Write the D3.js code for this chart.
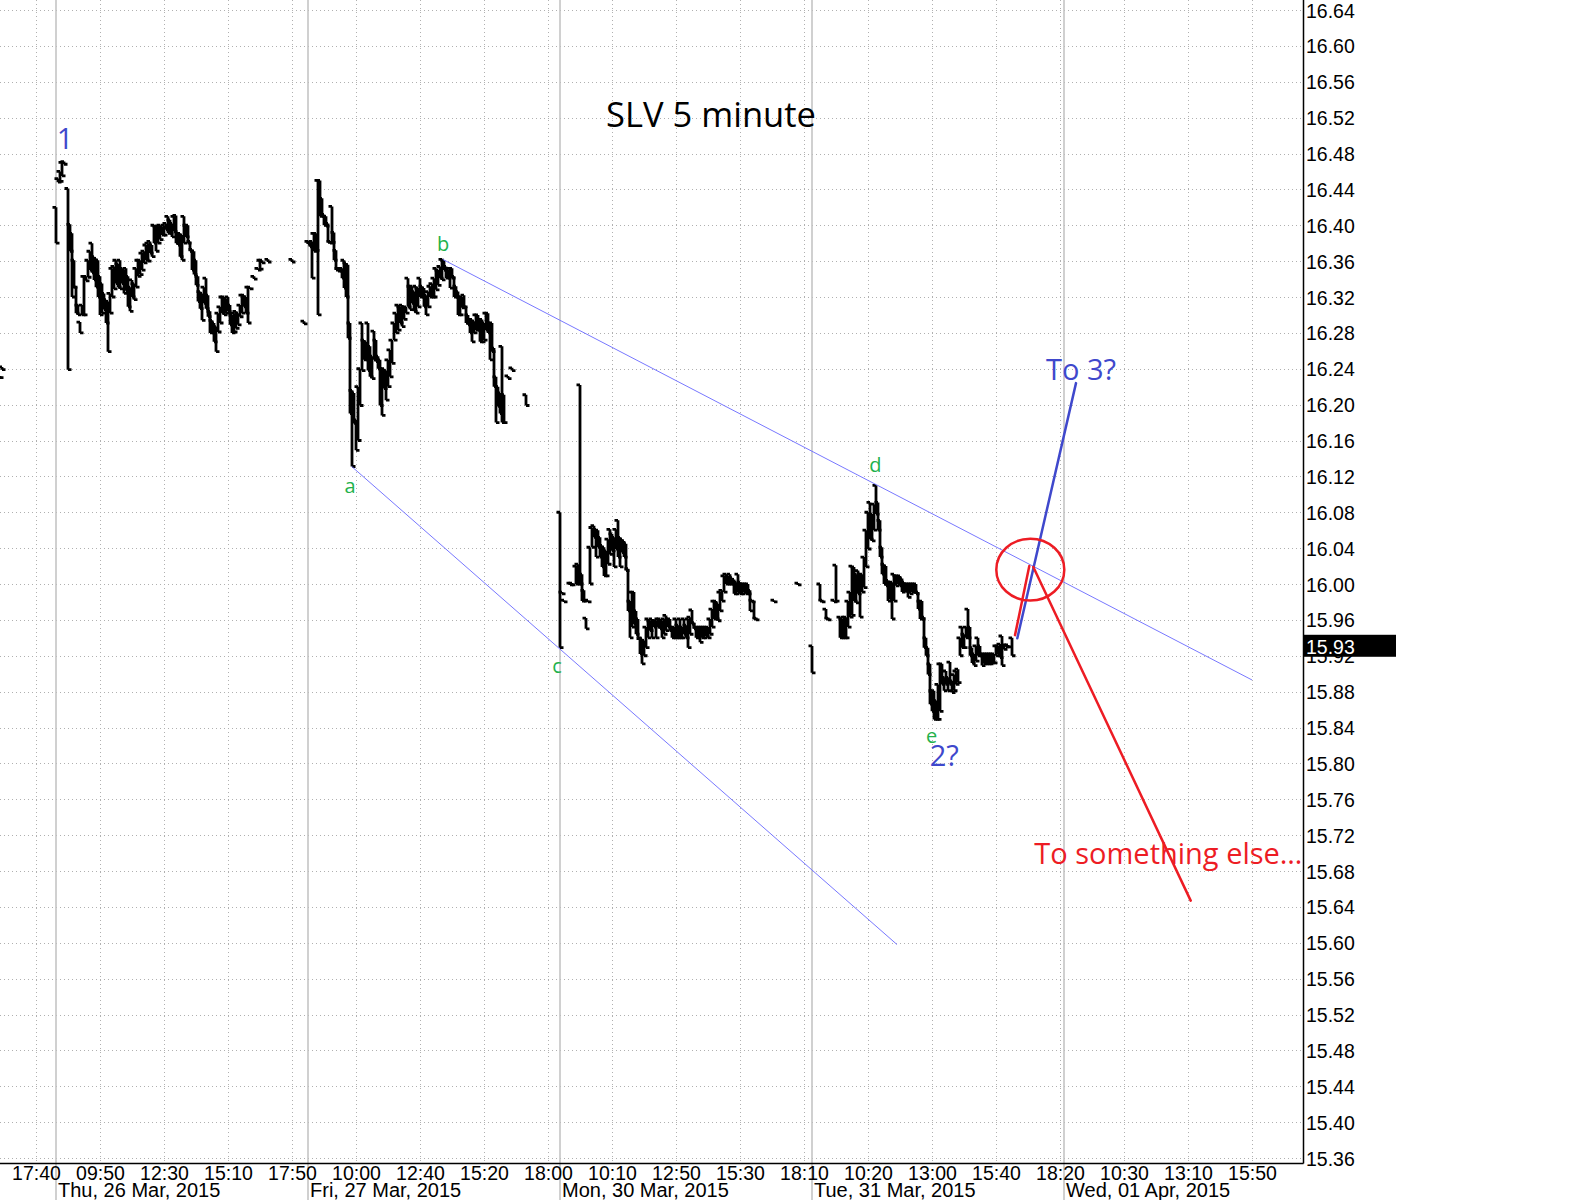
<!DOCTYPE html>
<html>
<head>
<meta charset="utf-8">
<script src="https://cdn.jsdelivr.net/npm/d3@7"></script>
<style>
  body { margin: 0; background: #fff; }
</style>
</head>
<body>
<div id="chart"></div>
<script>
// ---- data -------------------------------------------------------------
// 5 minute bars, session 08:00-18:30 = 126 bars per day.
// each bar: [bar number in the session, high, low]
const wedBars = [[98, 16.232, 16.230], [99, 16.242, 16.239]];

const thuBars = [
  [0,16.42,16.38],[1,16.452,16.448],[2,16.46,16.449],[3,16.47,16.455],[4,16.471,16.468],
  [6,16.441,16.239],[7,16.401,16.371],[8,16.391,16.32],[9,16.361,16.331],[10,16.331,16.302],
  [11,16.311,16.30],[12,16.292,16.28],[13,16.311,16.30],[14,16.343,16.30],[15,16.343,16.338],
  [16,16.361,16.342],[17,16.371,16.35],[18,16.38,16.347],[19,16.365,16.339],[20,16.363,16.331],
  [21,16.361,16.32],[22,16.343,16.30],[23,16.335,16.302],[24,16.324,16.306],[25,16.317,16.291],
  [26,16.315,16.259],[27,16.324,16.302],[28,16.352,16.32],[29,16.354,16.329],[30,16.361,16.335],
  [31,16.357,16.331],[32,16.361,16.329],[33,16.352,16.335],[34,16.35,16.324],[35,16.352,16.327],
  [36,16.343,16.309],[37,16.331,16.304],[38,16.339,16.32],[39,16.335,16.317],[40,16.352,16.331],
  [41,16.361,16.343],[42,16.361,16.345],[43,16.369,16.35],[44,16.371,16.358],[45,16.378,16.361],
  [46,16.38,16.36],[47,16.382,16.369],[48,16.378,16.365],[49,16.40,16.38],[50,16.399,16.371],
  [51,16.399,16.38],[52,16.40,16.384],[53,16.398,16.389],[54,16.40,16.389],[55,16.402,16.395],
  [56,16.41,16.391],[57,16.406,16.391],[58,16.402,16.387],[59,16.41,16.393],[60,16.411,16.38],
  [61,16.391,16.378],[62,16.391,16.365],[63,16.389,16.361],[64,16.41,16.38],[65,16.40,16.387],
  [66,16.40,16.38],[67,16.382,16.371],[68,16.373,16.35],[69,16.371,16.345],[70,16.361,16.333],
  [71,16.343,16.315],[72,16.326,16.307],[73,16.324,16.294],[74,16.331,16.313],[75,16.341,16.307],
  [76,16.322,16.298],[77,16.304,16.28],[78,16.294,16.28],[79,16.291,16.27],[80,16.287,16.259],
  [81,16.302,16.281],[82,16.309,16.291],[83,16.32,16.302],[84,16.32,16.30],[85,16.318,16.302],
  [86,16.32,16.304],[87,16.311,16.289],[88,16.30,16.28],[89,16.302,16.281],[90,16.304,16.285],
  [91,16.302,16.289],[92,16.311,16.298],[93,16.322,16.302],[94,16.322,16.309],[95,16.32,16.302],
  [96,16.331,16.291],[97,16.331,16.329],[99,16.343,16.34],[101,16.352,16.35],[102,16.361,16.351],
  [103,16.361,16.358],[106,16.362,16.359],[118,16.362,16.359],[124,16.293,16.29]
];

const friBars = [
  [0,16.382,16.379],[1,16.381,16.376],[2,16.382,16.341],[3,16.391,16.371],[4,16.391,16.372],
  [5,16.45,16.30],[6,16.45,16.41],[7,16.43,16.41],[8,16.412,16.40],[9,16.41,16.399],
  [10,16.402,16.381],[11,16.382,16.38],[12,16.421,16.381],[13,16.392,16.361],[14,16.372,16.35],
  [15,16.352,16.349],[16,16.352,16.349],[17,16.352,16.341],[18,16.361,16.33],[19,16.358,16.32],
  [20,16.356,16.274],[21,16.291,16.19],[22,16.216,16.131],[23,16.213,16.179],[24,16.183,16.149],
  [25,16.22,16.16],[26,16.24,16.199],[27,16.291,16.238],[28,16.272,16.25],[29,16.27,16.25],
  [30,16.291,16.238],[31,16.265,16.231],[32,16.254,16.229],[33,16.282,16.25],[34,16.272,16.248],
  [35,16.254,16.24],[36,16.25,16.199],[37,16.24,16.188],[38,16.24,16.218],[39,16.238,16.205],
  [40,16.25,16.22],[41,16.261,16.231],[42,16.272,16.246],[43,16.291,16.272],[44,16.302,16.28],
  [45,16.311,16.283],[46,16.309,16.291],[47,16.311,16.287],[48,16.309,16.295],[49,16.309,16.302],
  [50,16.341,16.309],[51,16.332,16.306],[52,16.332,16.313],[53,16.326,16.304],[54,16.332,16.302],
  [55,16.33,16.309],[56,16.341,16.32],[57,16.332,16.32],[58,16.33,16.309],[59,16.322,16.30],
  [60,16.326,16.309],[61,16.332,16.32],[62,16.335,16.32],[63,16.341,16.32],[64,16.352,16.328],
  [65,16.35,16.333],[66,16.354,16.341],[67,16.362,16.339],[68,16.361,16.35],[69,16.354,16.341],
  [70,16.35,16.341],[71,16.352,16.33],[72,16.352,16.341],[73,16.343,16.32],[74,16.332,16.32],
  [75,16.326,16.30],[76,16.32,16.30],[77,16.32,16.308],[78,16.322,16.309],[79,16.309,16.291],
  [80,16.30,16.289],[81,16.295,16.28],[82,16.295,16.27],[83,16.293,16.28],[84,16.30,16.283],
  [85,16.30,16.283],[86,16.295,16.27],[87,16.295,16.27],[88,16.291,16.272],[89,16.302,16.283],
  [90,16.302,16.28],[91,16.291,16.25],[92,16.291,16.259],[93,16.263,16.22],[94,16.231,16.18],
  [95,16.22,16.198],[96,16.213,16.19],[97,16.265,16.18],[98,16.211,16.18],[100,16.232,16.229],
  [102,16.241,16.238],[109,16.211,16.199]
];

const monBars = [
  [0,16.08,15.929],[1,15.991,15.989],[2,15.982,15.98],[5,16.001,15.999],[6,16.001,15.999],
  [8,16.02,16.00],[9,16.022,16.00],[10,16.222,16.00],[11,16.011,15.981],[12,15.993,15.981],
  [13,15.962,15.95],[14,15.982,15.98],[15,16.041,16.00],[16,16.063,16.041],[17,16.065,16.052],
  [18,16.061,16.03],[19,16.06,16.041],[20,16.052,16.03],[21,16.043,16.019],[22,16.041,16.009],
  [23,16.037,16.009],[24,16.05,16.022],[25,16.061,16.033],[26,16.056,16.037],[27,16.052,16.019],
  [28,16.061,16.039],[29,16.071,16.03],[30,16.052,16.019],[31,16.05,16.035],[32,16.048,16.03],
  [33,16.045,16.015],[34,16.017,15.97],[35,15.981,15.94],[36,15.991,15.952],[37,15.991,15.955],
  [38,15.97,15.944],[39,15.961,15.94],[40,15.939,15.922],[41,15.939,15.911],[42,15.937,15.92],
  [43,15.952,15.929],[44,15.961,15.94],[45,15.959,15.948],[46,15.961,15.94],[47,15.959,15.952],
  [48,15.959,15.94],[49,15.961,15.952],[50,15.961,15.95],[51,15.959,15.94],[52,15.961,15.944],
  [53,15.965,15.948],[54,15.961,15.952],[55,15.961,15.948],[56,15.952,15.94],[57,15.952,15.94],
  [58,15.961,15.94],[59,15.954,15.94],[60,15.961,15.94],[61,15.952,15.94],[62,15.961,15.944],
  [63,15.954,15.94],[64,15.961,15.929],[65,15.963,15.944],[66,15.971,15.955],[67,15.957,15.95],
  [68,15.952,15.94],[69,15.952,15.94],[70,15.952,15.935],[71,15.952,15.94],[72,15.952,15.94],
  [73,15.952,15.942],[74,15.952,15.94],[75,15.961,15.944],[76,15.972,15.952],[77,15.981,15.961],
  [78,15.981,15.961],[79,15.978,15.959],[80,15.991,15.97],[81,15.993,15.981],[82,16.009,15.991],
  [83,16.011,16.00],[84,16.009,16.00],[85,16.011,16.00],[86,16.007,16.00],[87,16.005,15.989],
  [88,16.002,15.989],[89,16.011,15.991],[90,16.002,15.989],[91,16.00,15.989],[92,16.00,15.991],
  [93,16.00,15.989],[94,16.00,15.989],[95,15.993,15.97],[96,15.982,15.98],[97,15.981,15.961],
  [98,15.962,15.96],[107,15.982,15.98],[119,16.001,15.999]
];

const tueBars = [
  [0,15.931,15.901],[4,16.00,15.981],[5,15.982,15.98],[7,15.972,15.961],[8,15.962,15.96],
  [11,15.982,15.98],[12,16.021,15.981],[14,15.963,15.94],[15,15.961,15.94],[16,15.963,15.94],
  [17,15.963,15.94],[18,15.981,15.952],[19,15.991,15.963],[20,16.02,15.965],[21,16.019,15.981],
  [22,16.011,15.979],[23,16.015,15.989],[24,16.011,15.963],[25,16.011,15.991],[26,16.03,15.996],
  [27,16.06,16.019],[28,16.08,16.039],[29,16.091,16.05],[30,16.078,16.048],[31,16.089,16.06],
  [32,16.11,16.078],[33,16.091,16.06],[34,16.071,16.03],[35,16.041,16.011],[36,16.022,16.00],
  [37,16.02,15.998],[38,16.004,15.981],[39,16.002,15.983],[40,16.002,15.961],[41,16.011,15.981],
  [42,16.009,15.998],[43,16.009,16.00],[44,16.009,15.998],[45,16.006,15.991],[46,16.002,15.992],
  [47,16.00,15.992],[48,16.00,15.985],[49,16.00,15.989],[50,16.00,15.991],[51,16.00,15.991],
  [52,16.00,15.989],[53,15.991,15.972],[54,15.981,15.961],[55,15.981,15.961],[56,15.963,15.929],
  [57,15.94,15.92],[58,15.929,15.899],[59,15.911,15.866],[60,15.881,15.858],[61,15.881,15.849],
  [62,15.87,15.849],[63,15.888,15.849],[64,15.911,15.858],[65,15.911,15.888],[66,15.896,15.881],
  [67,15.903,15.888],[68,15.896,15.881],[69,15.913,15.888],[70,15.892,15.879],[71,15.899,15.881],
  [72,15.903,15.888],[73,15.905,15.89],[74,15.94,15.92],[75,15.952,15.929],[76,15.944,15.929],
  [77,15.952,15.94],[78,15.972,15.94],[79,15.952,15.92],[80,15.929,15.912],[81,15.922,15.909],
  [82,15.931,15.914],[83,15.94,15.92],[84,15.931,15.92],[85,15.922,15.909],[86,15.922,15.911],
  [87,15.922,15.911],[88,15.922,15.911],[89,15.922,15.911],[90,15.922,15.912],[91,15.922,15.912],
  [92,15.931,15.92],[93,15.931,15.922],[94,15.933,15.918],[95,15.942,15.909],[96,15.931,15.927],
  [97,15.932,15.93],[98,15.932,15.93],[100,15.94,15.92]
];

const lastPrice = 15.93;

const priceTicks = [15.36,15.40,15.44,15.48,15.52,15.56,15.60,15.64,15.68,15.72,15.76,15.80,
  15.84,15.88,15.92,15.96,16.00,16.04,16.08,16.12,16.16,16.20,16.24,16.28,16.32,16.36,16.40,
  16.44,16.48,16.52,16.56,16.60,16.64];

// bar index (counted from Thu 08:00) of every time label
const timeTickIdx = [-10,22,54,86,118,150,182,214,246,278,310,342,374,406,438,470,502,534,566,598];
const timeLabels = ["17:40","09:50","12:30","15:10","17:50","10:00","12:40","15:20","18:00","10:10",
  "12:50","15:30","18:10","10:20","13:00","15:40","18:20","10:30","13:10","15:50"];

const dateLabels = ["Thu, 26 Mar, 2015","Fri, 27 Mar, 2015","Mon, 30 Mar, 2015",
  "Tue, 31 Mar, 2015","Wed, 01 Apr, 2015"];

// drawn annotations, [bar index, price]
const upperTrend = [[193.35, 16.362], [598, 15.893]];
const lowerTrend = [[147.85, 16.131], [420.5, 15.598]];
const toThree = [[480.65, 15.9395], [510, 16.224]];
const toElseUp = [[479.5, 15.943], [486.65, 16.02]];
const toElseDown = [[488.65, 16.019], [567.35, 15.647]];
const circleAt = [487.15, 16.016];

const waveLetters = [
  { t: "a", i: 147, p: 16.102 },
  { t: "b", i: 193.5, p: 16.371 },
  { t: "c", i: 250.5, p: 15.901 },
  { t: "d", i: 409.7, p: 16.125 },
  { t: "e", i: 437.85, p: 15.823 }
];
const waveCounts = [
  { t: "1", i: 4.5, p: 16.485, anchor: "middle", color: "#3f48cc" },
  { t: "2?", i: 444.15, p: 15.797, anchor: "middle", color: "#3f48cc" },
  { t: "To 3?", i: 495, p: 16.228, anchor: "start", color: "#3f48cc" },
  { t: "To something else\u2026", i: 489.15, p: 15.688, anchor: "start", color: "#ed1c24" }
];

// ---- layout -------------------------------------------------------------
const W = 1587, H = 1200;
const plotRight = 1303, axisY = 1163;
const barsPerDay = 126;
const axisFont = "'Liberation Sans', Arial, sans-serif";
const noteFont = "'Open Sans', sans-serif";

const svg = d3.select("#chart").append("svg")
    .attr("width", W)
    .attr("height", H);

const x = d3.scaleLinear().domain([-28, 623.5]).range([0, plotRight]);
const y = d3.scaleLinear().domain([15.36, 16.64]).range([1158, 10]);

// gridlines
const grid = svg.append("g");
grid.selectAll(".hgrid")
    .data(priceTicks)
    .enter().append("line")
    .attr("x1", 0).attr("x2", plotRight)
    .attr("y1", d => Math.round(y(d)) + 0.5)
    .attr("y2", d => Math.round(y(d)) + 0.5)
    .style("stroke", "#b0b0b0")
    .style("stroke-dasharray", "1,3");

grid.selectAll(".vgrid")
    .data(timeTickIdx)
    .enter().append("line")
    .attr("x1", d => x(d) + 0.5).attr("x2", d => x(d) + 0.5)
    .attr("y1", 0).attr("y2", axisY)
    .style("stroke", "#b0b0b0")
    .style("stroke-dasharray", "1,3");

// day separators
grid.selectAll(".day")
    .data(dateLabels)
    .enter().append("line")
    .attr("x1", (d, k) => x(k * barsPerDay)).attr("x2", (d, k) => x(k * barsPerDay))
    .attr("y1", 0).attr("y2", H)
    .style("stroke", "#c0c0c0")
    .style("stroke-width", 1.5);

// price bars
var allBars = [];
[[-1, wedBars], [0, thuBars], [1, friBars], [2, monBars], [3, tueBars]].forEach(function (s) {
    s[1].forEach(function (b) {
        allBars.push({ i: s[0] * barsPerDay + b[0], h: b[1], l: b[2] });
    });
});

svg.append("g")
    .selectAll("path")
    .data(allBars)
    .enter().append("path")
    .attr("d", function (d) {
        var xi = x(d.i), yh = y(d.h), yl = y(d.l);
        if (yl - yh < 1.5) { yl = yh + 1.5; }
        return "M" + xi + "," + yh + "V" + yl +
            "M" + (xi - 3.5) + "," + yh + "H" + xi +
            "M" + xi + "," + yl + "H" + (xi + 3.5);
    })
    .style("fill", "none")
    .style("stroke", "#000")
    .style("stroke-width", 2.8);

// trend lines and scenarios
var line = d3.line().x(d => x(d[0])).y(d => y(d[1]));
var notes = svg.append("g");
[upperTrend, lowerTrend].forEach(function (pts) {
    notes.append("path").attr("d", line(pts))
        .style("fill", "none").style("stroke", "#7878ff").style("stroke-width", 1);
});
notes.append("path").attr("d", line(toThree))
    .style("fill", "none").style("stroke", "#3f48cc").style("stroke-width", 2.5)
    .style("stroke-linecap", "round");
[toElseUp, toElseDown].forEach(function (pts) {
    notes.append("path").attr("d", line(pts))
        .style("fill", "none").style("stroke", "#ed1c24").style("stroke-width", 2.5)
        .style("stroke-linecap", "round");
});
notes.append("ellipse")
    .attr("cx", x(circleAt[0]))
    .attr("cy", y(circleAt[1]))
    .attr("rx", x(circleAt[0] + 17) - x(circleAt[0]))
    .attr("ry", y(circleAt[1]) - y(circleAt[1] + 0.0345))
    .style("fill", "none").style("stroke", "#ed1c24").style("stroke-width", 2.5);

notes.selectAll(".letter")
    .data(waveLetters)
    .enter().append("text")
    .attr("x", d => x(d.i)).attr("y", d => y(d.p))
    .attr("text-anchor", "middle")
    .style("font-family", noteFont).style("font-size", "20px")
    .style("fill", "#22b14c")
    .text(d => d.t);

notes.selectAll(".count")
    .data(waveCounts)
    .enter().append("text")
    .attr("x", d => x(d.i)).attr("y", d => y(d.p))
    .attr("text-anchor", d => d.anchor)
    .style("font-family", noteFont).style("font-size", "29px")
    .style("fill", d => d.color)
    .text(d => d.t);

// title
svg.append("text")
    .attr("x", 711).attr("y", 126.5)
    .attr("text-anchor", "middle")
    .style("font-family", noteFont).style("font-size", "34.5px")
    .style("fill", "#000")
    .text("SLV 5 minute");

// right price axis
var yAxis = svg.append("g")
    .attr("transform", "translate(" + plotRight + ",0)")
    .call(d3.axisRight(y).tickValues(priceTicks).tickSize(0).tickPadding(3).tickFormat(d3.format(".2f")));
yAxis.select(".domain").remove();
yAxis.selectAll("text")
    .attr("dy", "0.36em")
    .style("font-family", axisFont).style("font-size", "19.5px").style("fill", "#000");

// bottom time axis
var xAxis = svg.append("g")
    .attr("transform", "translate(0," + axisY + ")")
    .call(d3.axisBottom(x).tickValues(timeTickIdx).tickSize(0).tickFormat((d, k) => timeLabels[k]));
xAxis.select(".domain").remove();
xAxis.selectAll("text")
    .attr("y", 17).attr("dy", 0)
    .style("font-family", axisFont).style("font-size", "19.5px").style("fill", "#000");

svg.append("g").selectAll("text")
    .data(dateLabels)
    .enter().append("text")
    .attr("x", (d, k) => x(k * barsPerDay) + 2)
    .attr("y", 1197)
    .style("font-family", axisFont).style("font-size", "20px").style("fill", "#000")
    .text(d => d);

// axis lines
svg.append("line")
    .attr("x1", plotRight + 0.5).attr("x2", plotRight + 0.5)
    .attr("y1", 0).attr("y2", axisY + 0.5)
    .style("stroke", "#000").style("stroke-width", 1.5);
svg.append("line")
    .attr("x1", 0).attr("x2", plotRight + 0.5)
    .attr("y1", axisY + 0.5).attr("y2", axisY + 0.5)
    .style("stroke", "#000").style("stroke-width", 1.5);

// last price marker
svg.append("rect")
    .attr("x", plotRight + 1)
    .attr("y", y(lastPrice) - 12)
    .attr("width", 92)
    .attr("height", 22)
    .style("fill", "#000");
svg.append("text")
    .attr("x", plotRight + 3)
    .attr("y", y(lastPrice))
    .attr("dy", "0.36em")
    .style("font-family", axisFont).style("font-size", "19.5px").style("fill", "#fff")
    .text(d3.format(".2f")(lastPrice));
</script>
</body>
</html>
